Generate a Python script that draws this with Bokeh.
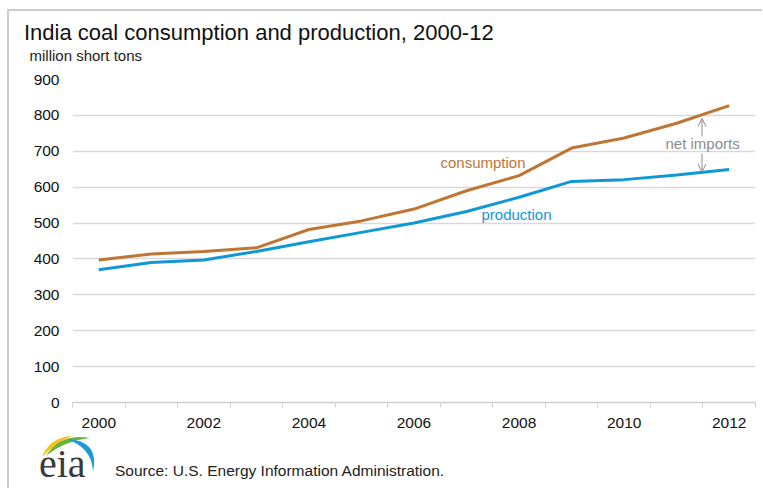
from bokeh.plotting import figure
from bokeh.models import Range1d, FixedTicker, Label, Arrow, OpenHead, BoxAnnotation, Div
from bokeh.embed import file_html
from bokeh.resources import INLINE

# ---------------- data ----------------
years = [2000, 2001, 2002, 2003, 2004, 2005, 2006, 2007, 2008, 2009, 2010, 2011, 2012]
consumption = [397, 414, 421, 431, 482, 506, 539, 590, 632, 709, 737, 778, 827]
production = [370, 390, 397, 421, 448, 474, 500, 532, 572, 616, 621, 634, 649]
x_tick_labels = [2000, 2002, 2004, 2006, 2008, 2010, 2012]
y_ticks = [0, 100, 200, 300, 400, 500, 600, 700, 800, 900]

title_text = "India coal consumption and production, 2000-12"
units_text = "million short tons"
source_text = "Source: U.S. Energy Information Administration."

FONT = "Liberation Sans"
C_CONS = "#bf7634"
C_PROD = "#0f98d6"
GRID = "#d9d9d9"
GRAY_TXT = "#8c8c8c"
EDGE = "#cccccc"

# ---------------- page geometry ----------------
PAGE_W = 762
EDGE_X, EDGE_Y = 7, 9                # grey outer frame line (left / top)
PX0 = 9                              # page x where the plot canvas starts
PW = PAGE_W - PX0                    # plot canvas width
FL, FR, FT, FB = 72, 755, 79, 402    # plot frame edges on the page
MAIN_TOP, MAIN_BOT = 64, 432
H_HDR = MAIN_TOP
H_MAIN = MAIN_BOT - MAIN_TOP
H_FTR = 56

X0, X1 = years[0] - 0.5, years[-1] + 0.5
Y0, Y1 = 0, 900


def xd(px):
    return X0 + (px - FL) * (X1 - X0) / (FR - FL)


def yd(py):
    return Y0 + (FB - py) * (Y1 - Y0) / (FB - FT)


def top_for(baseline, size, k=0.8465):
    return baseline - k * size


def vline(top, height):
    return (f'<div style="position:absolute;left:{EDGE_X}px;top:{top}px;width:2px;'
            f'height:{height}px;background:{EDGE};"></div>')


# ---------------- header ----------------
hdr_html = (
    f'<div style="position:relative;width:{PAGE_W}px;height:{H_HDR}px;font-family:\'{FONT}\';">'
    f'<div style="position:absolute;left:{EDGE_X}px;top:{EDGE_Y}px;width:{PAGE_W - EDGE_X}px;'
    f'height:2px;background:{EDGE};"></div>'
    + vline(EDGE_Y, H_HDR - EDGE_Y) +
    f'<div style="position:absolute;left:24px;top:{top_for(41, 22):.1f}px;'
    f'font-size:22px;line-height:1;color:#111111;white-space:nowrap;">{title_text}</div>'
    f'<div style="position:absolute;left:29.5px;top:{top_for(61, 15):.1f}px;'
    f'font-size:15px;line-height:1;color:#222222;white-space:nowrap;">{units_text}</div>'
    '</div>'
)
hdr = Div(text=hdr_html, width=PAGE_W, height=H_HDR, margin=0)

# ---------------- main plot ----------------
p = figure(width=PW, height=H_MAIN, x_range=Range1d(X0, X1), y_range=Range1d(Y0, Y1),
           output_backend="svg", toolbar_location=None,
           min_border_left=FL - PX0, min_border_right=PAGE_W - FR,
           min_border_top=FT - MAIN_TOP, min_border_bottom=MAIN_BOT - FB,
           outline_line_color=None, margin=(0, 0, 0, EDGE_X),
           styles={"border-left": f"2px solid {EDGE}"})
p.xgrid.grid_line_color = None
p.ygrid.ticker = FixedTicker(ticks=y_ticks)
p.ygrid.grid_line_color = GRID
p.ygrid.grid_line_width = 1.5

p.xaxis.ticker = FixedTicker(ticks=x_tick_labels,
                             minor_ticks=[y - 0.5 for y in years] + [years[-1] + 0.5])
p.xaxis.major_tick_out = 0
p.xaxis.major_tick_in = 0
p.xaxis.minor_tick_out = 5
p.xaxis.minor_tick_in = 0
p.xaxis.minor_tick_line_color = "#cfcfcf"
p.xaxis.axis_line_color = "#cfcfcf"
p.xaxis.axis_line_width = 1.5
p.xaxis.major_label_standoff = 10

p.yaxis.ticker = FixedTicker(ticks=y_ticks)
p.yaxis.major_tick_out = 0
p.yaxis.major_tick_in = 0
p.yaxis.minor_tick_line_color = None
p.yaxis.axis_line_color = None
p.yaxis.major_label_standoff = 13

for ax in (p.xaxis, p.yaxis):
    ax.major_label_text_font = FONT
    ax.major_label_text_font_size = "15.5px"
    ax.major_label_text_color = "#111111"

p.line(years, consumption, line_color=C_CONS, line_width=3)
p.line(years, production, line_color=C_PROD, line_width=3)

# mask gridline behind "net imports"
p.add_layout(BoxAnnotation(left=xd(653), right=X1, bottom=yd(145), top=yd(131),
                           fill_color="white", fill_alpha=1.0, line_alpha=0))

p.add_layout(Label(x=xd(440), y=yd(161.5), text="consumption", text_color=C_CONS, text_font=FONT,
                   text_font_size="15px", text_baseline="middle", text_align="left"))
p.add_layout(Label(x=xd(481), y=yd(213.5), text="production", text_color=C_PROD, text_font=FONT,
                   text_font_size="15px", text_baseline="middle", text_align="left"))
p.add_layout(Label(x=xd(665), y=yd(143), text="net imports", text_color=GRAY_TXT, text_font=FONT,
                   text_font_size="15px", text_baseline="middle", text_align="left"))
p.add_layout(Arrow(end=OpenHead(size=8, line_color=GRAY_TXT, line_width=1),
                   x_start=xd(701.5), y_start=yd(136), x_end=xd(701.5), y_end=yd(118),
                   line_color=GRAY_TXT, line_width=1))
p.add_layout(Arrow(end=OpenHead(size=8, line_color=GRAY_TXT, line_width=1),
                   x_start=xd(701.5), y_start=yd(153), x_end=xd(701.5), y_end=yd(171.5),
                   line_color=GRAY_TXT, line_width=1))

# ---------------- footer: eia logo + source ----------------
fy = MAIN_BOT


def swoosh_path(a, b, co, ci):
    a = (a[0], a[1] - fy); b = (b[0], b[1] - fy)
    co = (co[0], co[1] - fy); ci = (ci[0], ci[1] - fy)
    return (f"M{a[0]},{a[1]} Q{co[0]},{co[1]} {b[0]},{b[1]} "
            f"Q{ci[0]},{ci[1]} {a[0]},{a[1]} Z")


swooshes = [((42, 457), (72, 436), (50, 437), (55, 443), "#f3c21b"),
            ((46, 456), (90, 438), (60, 433), (64, 441), "#6bb33f"),
            ((66, 439), (93, 472), (100, 440), (92, 447), "#1a9bd7")]
paths = "".join(f'<path d="{swoosh_path(a, b, co, ci)}" fill="{c}"/>'
                for a, b, co, ci, c in swooshes)

ftr_html = (
    f'<div style="position:relative;width:{PAGE_W}px;height:{H_FTR}px;font-family:\'{FONT}\';">'
    + vline(0, H_FTR) +
    f'<svg style="position:absolute;left:0;top:0;" width="120" height="{H_FTR}">{paths}</svg>'
    f'<div style="position:absolute;left:39px;top:{top_for(477 - fy, 40, 0.8375):.1f}px;'
    f'font-family:\'Liberation Serif\';font-size:40px;line-height:1;color:#3a3a3a;">eia</div>'
    f'<div style="position:absolute;left:115px;top:{top_for(476 - fy, 15.5):.1f}px;'
    f'font-size:15.5px;line-height:1;color:#222222;white-space:nowrap;">{source_text}</div>'
    '</div>'
)
ftr = Div(text=ftr_html, width=PAGE_W, height=H_FTR, margin=0)

open("out.html", "w").write(file_html([hdr, p, ftr], INLINE))
